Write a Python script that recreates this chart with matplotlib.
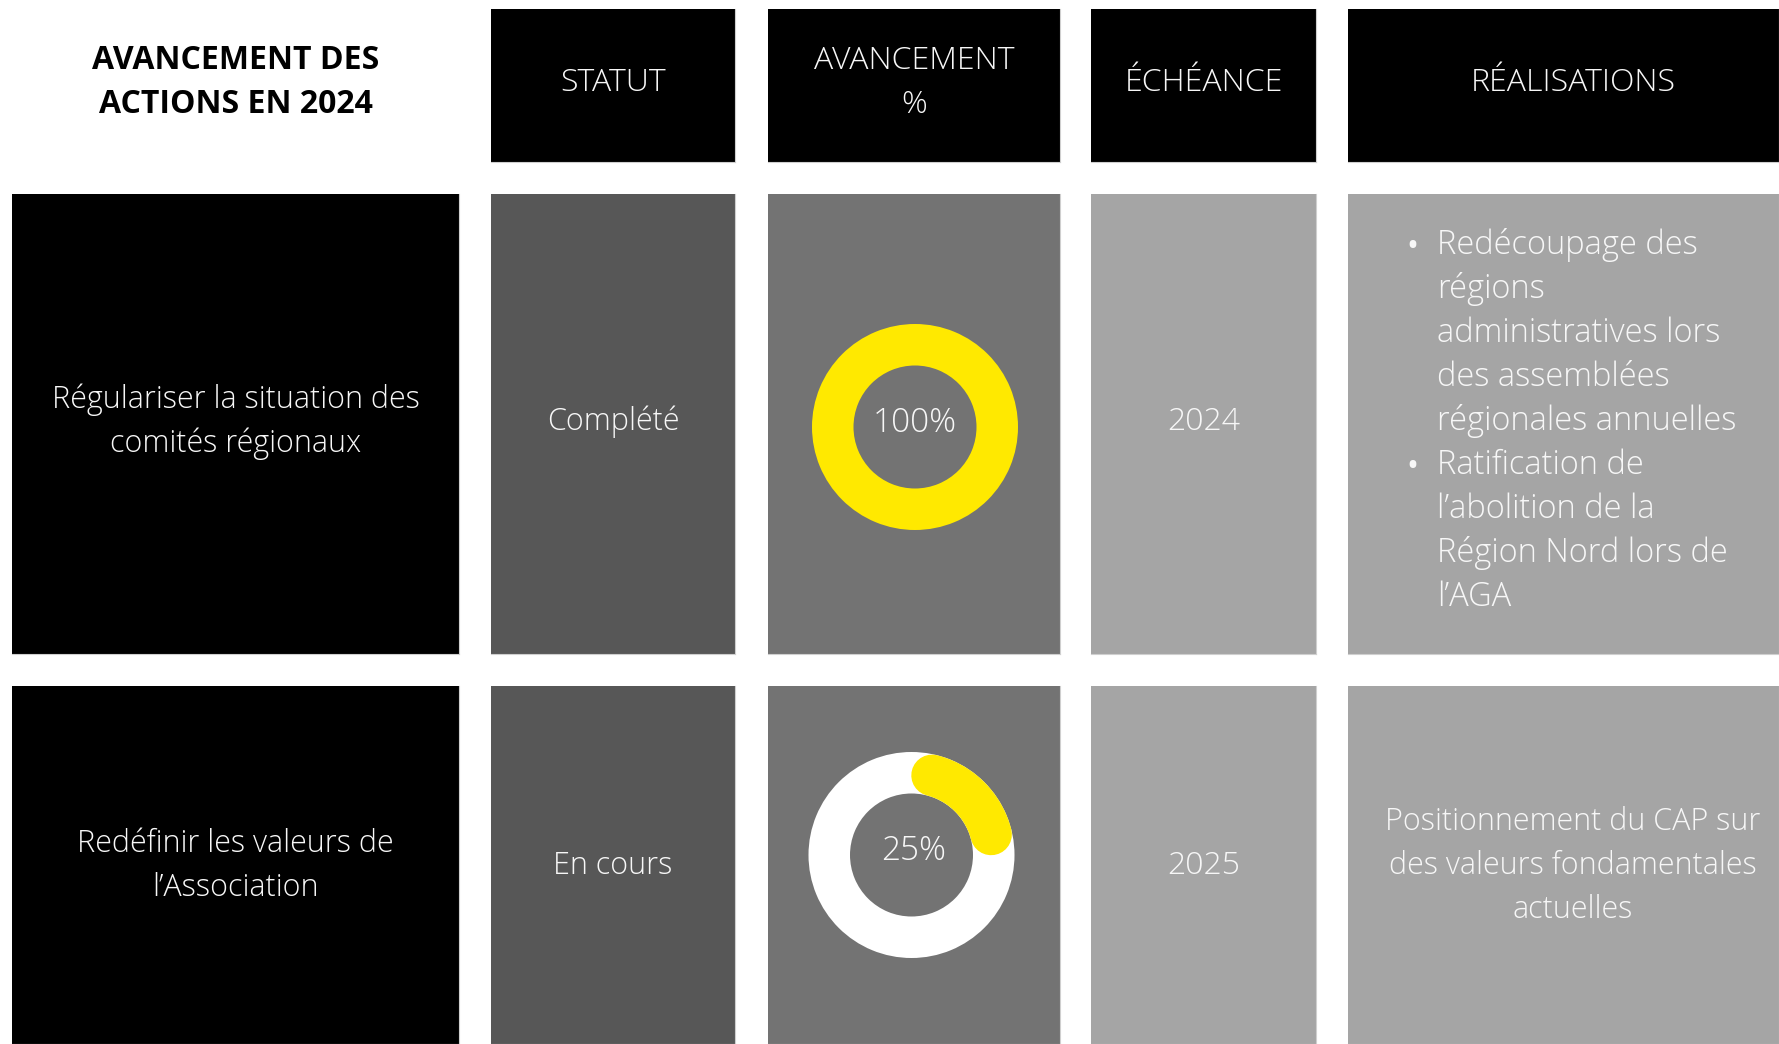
import matplotlib
matplotlib.use("Agg")
import matplotlib.pyplot as plt
from matplotlib.patches import Rectangle, Wedge
import numpy as np

# ---------------- data ----------------
title_lines = ["AVANCEMENT DES", "ACTIONS EN 2024"]
headers = [["STATUT"], ["AVANCEMENT", "%"], ["ÉCHÉANCE"], ["RÉALISATIONS"]]
actions = [["Régulariser la situation des", "comités régionaux"],
           ["Redéfinir les valeurs de", "l’Association"]]
statuts = ["Complété", "En cours"]
progress = [100, 25]
echeances = ["2024", "2025"]
real_row1 = [["Redécoupage des", "régions", "administratives lors",
              "des assemblées", "régionales annuelles"],
             ["Ratification de", "l’abolition de la",
              "Région Nord lors de", "l’AGA"]]
real_row2 = ["Positionnement du CAP sur", "des valeurs fondamentales", "actuelles"]

# ---------------- layout (pixels) ----------------
W, H = 1779, 1044
col_x = [(12, 459), (491, 735), (768, 1060), (1091, 1316), (1348, 1779)]
col_colors = ["#000000", "#575757", "#737373", "#a5a5a5", "#a5a5a5"]
header_y = (9, 162)
row_y = [(194, 654), (686, 1044)]
row_text_center = [420.5, 863.5]
text_col = "#f7f7f7"
yellow = "#FFE900"
FONT = ["Open Sans", "DejaVu Sans"]
BODY = 22
PITCH = 44

fig = plt.figure(figsize=(W / 100, H / 100), dpi=100)
ax = fig.add_axes([0, 0, 1, 1])
ax.set_xlim(0, W)
ax.set_ylim(H, 0)
ax.axis("off")
fig.patch.set_facecolor("white")


def box(x0, x1, y0, y1, color):
    ax.add_patch(Rectangle((x0, y0), x1 - x0, y1 - y0, facecolor=color,
                           edgecolor="none", zorder=1))
    ax.plot([x0, x1], [y1, y1], color="#cfcfcf", lw=0.8, zorder=1.5)
    ax.plot([x1, x1], [y0, y1], color="#cfcfcf", lw=0.8, zorder=1.5)


def lines(xc, yc, items, size=BODY, color=text_col, weight="light", ha="center"):
    n = len(items)
    for i, s in enumerate(items):
        y = yc + (i - (n - 1) / 2) * PITCH
        ax.text(xc, y + 10, s, ha=ha, va="baseline", fontsize=size,
                color=color, family=FONT, fontweight=weight, zorder=5)


# title
lines(236, 81, title_lines, size=23, color="black", weight="bold")

# headers
for k, hdr in enumerate(headers):
    x0, x1 = col_x[k + 1]
    box(x0, x1, header_y[0], header_y[1], "#000000")
    xc = (x0 + x1) / 2 if k < 3 else 1573
    lines(xc, 81, hdr, size=23)

# rows
for r in range(2):
    y0, y1 = row_y[r]
    for c in range(5):
        box(col_x[c][0], col_x[c][1], y0, y1, col_colors[c])
    yc = row_text_center[r]
    lines((col_x[0][0] + col_x[0][1]) / 2, yc, actions[r])
    lines((col_x[1][0] + col_x[1][1]) / 2, yc, [statuts[r]])
    lines((col_x[3][0] + col_x[3][1]) / 2, yc, [echeances[r]], size=23)

# donuts
donut_centers = [(915, 427), (911.5, 855)]
pct_text_y = [422, 850]
pct_text_x = [915, 914]
R_OUT, R_IN = 103, 61.5
ring_w = R_OUT - R_IN
for r in range(2):
    cx, cy = donut_centers[r]
    frac = progress[r] / 100
    if frac >= 1:
        ax.add_patch(Wedge((cx, cy), R_OUT, 0, 360, width=ring_w,
                           facecolor=yellow, edgecolor="none", zorder=3))
    else:
        ax.add_patch(Wedge((cx, cy), R_OUT, 0, 360, width=ring_w,
                           facecolor="white", edgecolor="none", zorder=3))
        rm = (R_OUT + R_IN) / 2
        cap = (ring_w / 2) / rm
        a = np.linspace(cap, 2 * np.pi * frac - cap, 100)
        ax.plot(cx + rm * np.sin(a), cy - rm * np.cos(a), color=yellow,
                lw=ring_w * 0.72, solid_capstyle="round", zorder=4)
    ax.text(pct_text_x[r], pct_text_y[r] + 10, f"{progress[r]}%", ha="center",
            va="baseline", fontsize=24, color=text_col, family=FONT,
            fontweight="light", zorder=5)

# realisations row 1 (bullets)
x_text, x_bullet = 1437, 1412
y_line = 243.5
for group in real_row1:
    for i, s in enumerate(group):
        if i == 0:
            ax.text(x_bullet, y_line + 4, "•", ha="center", va="center",
                    fontsize=23, color=text_col, family=FONT, zorder=5)
        ax.text(x_text, y_line + 10, s, ha="left", va="baseline", fontsize=23.5,
                color=text_col, family=FONT, fontweight="light", zorder=5)
        y_line += PITCH

# realisations row 2
lines(1573, 864, real_row2)

fig.savefig("out.png", dpi=100, facecolor="white")
